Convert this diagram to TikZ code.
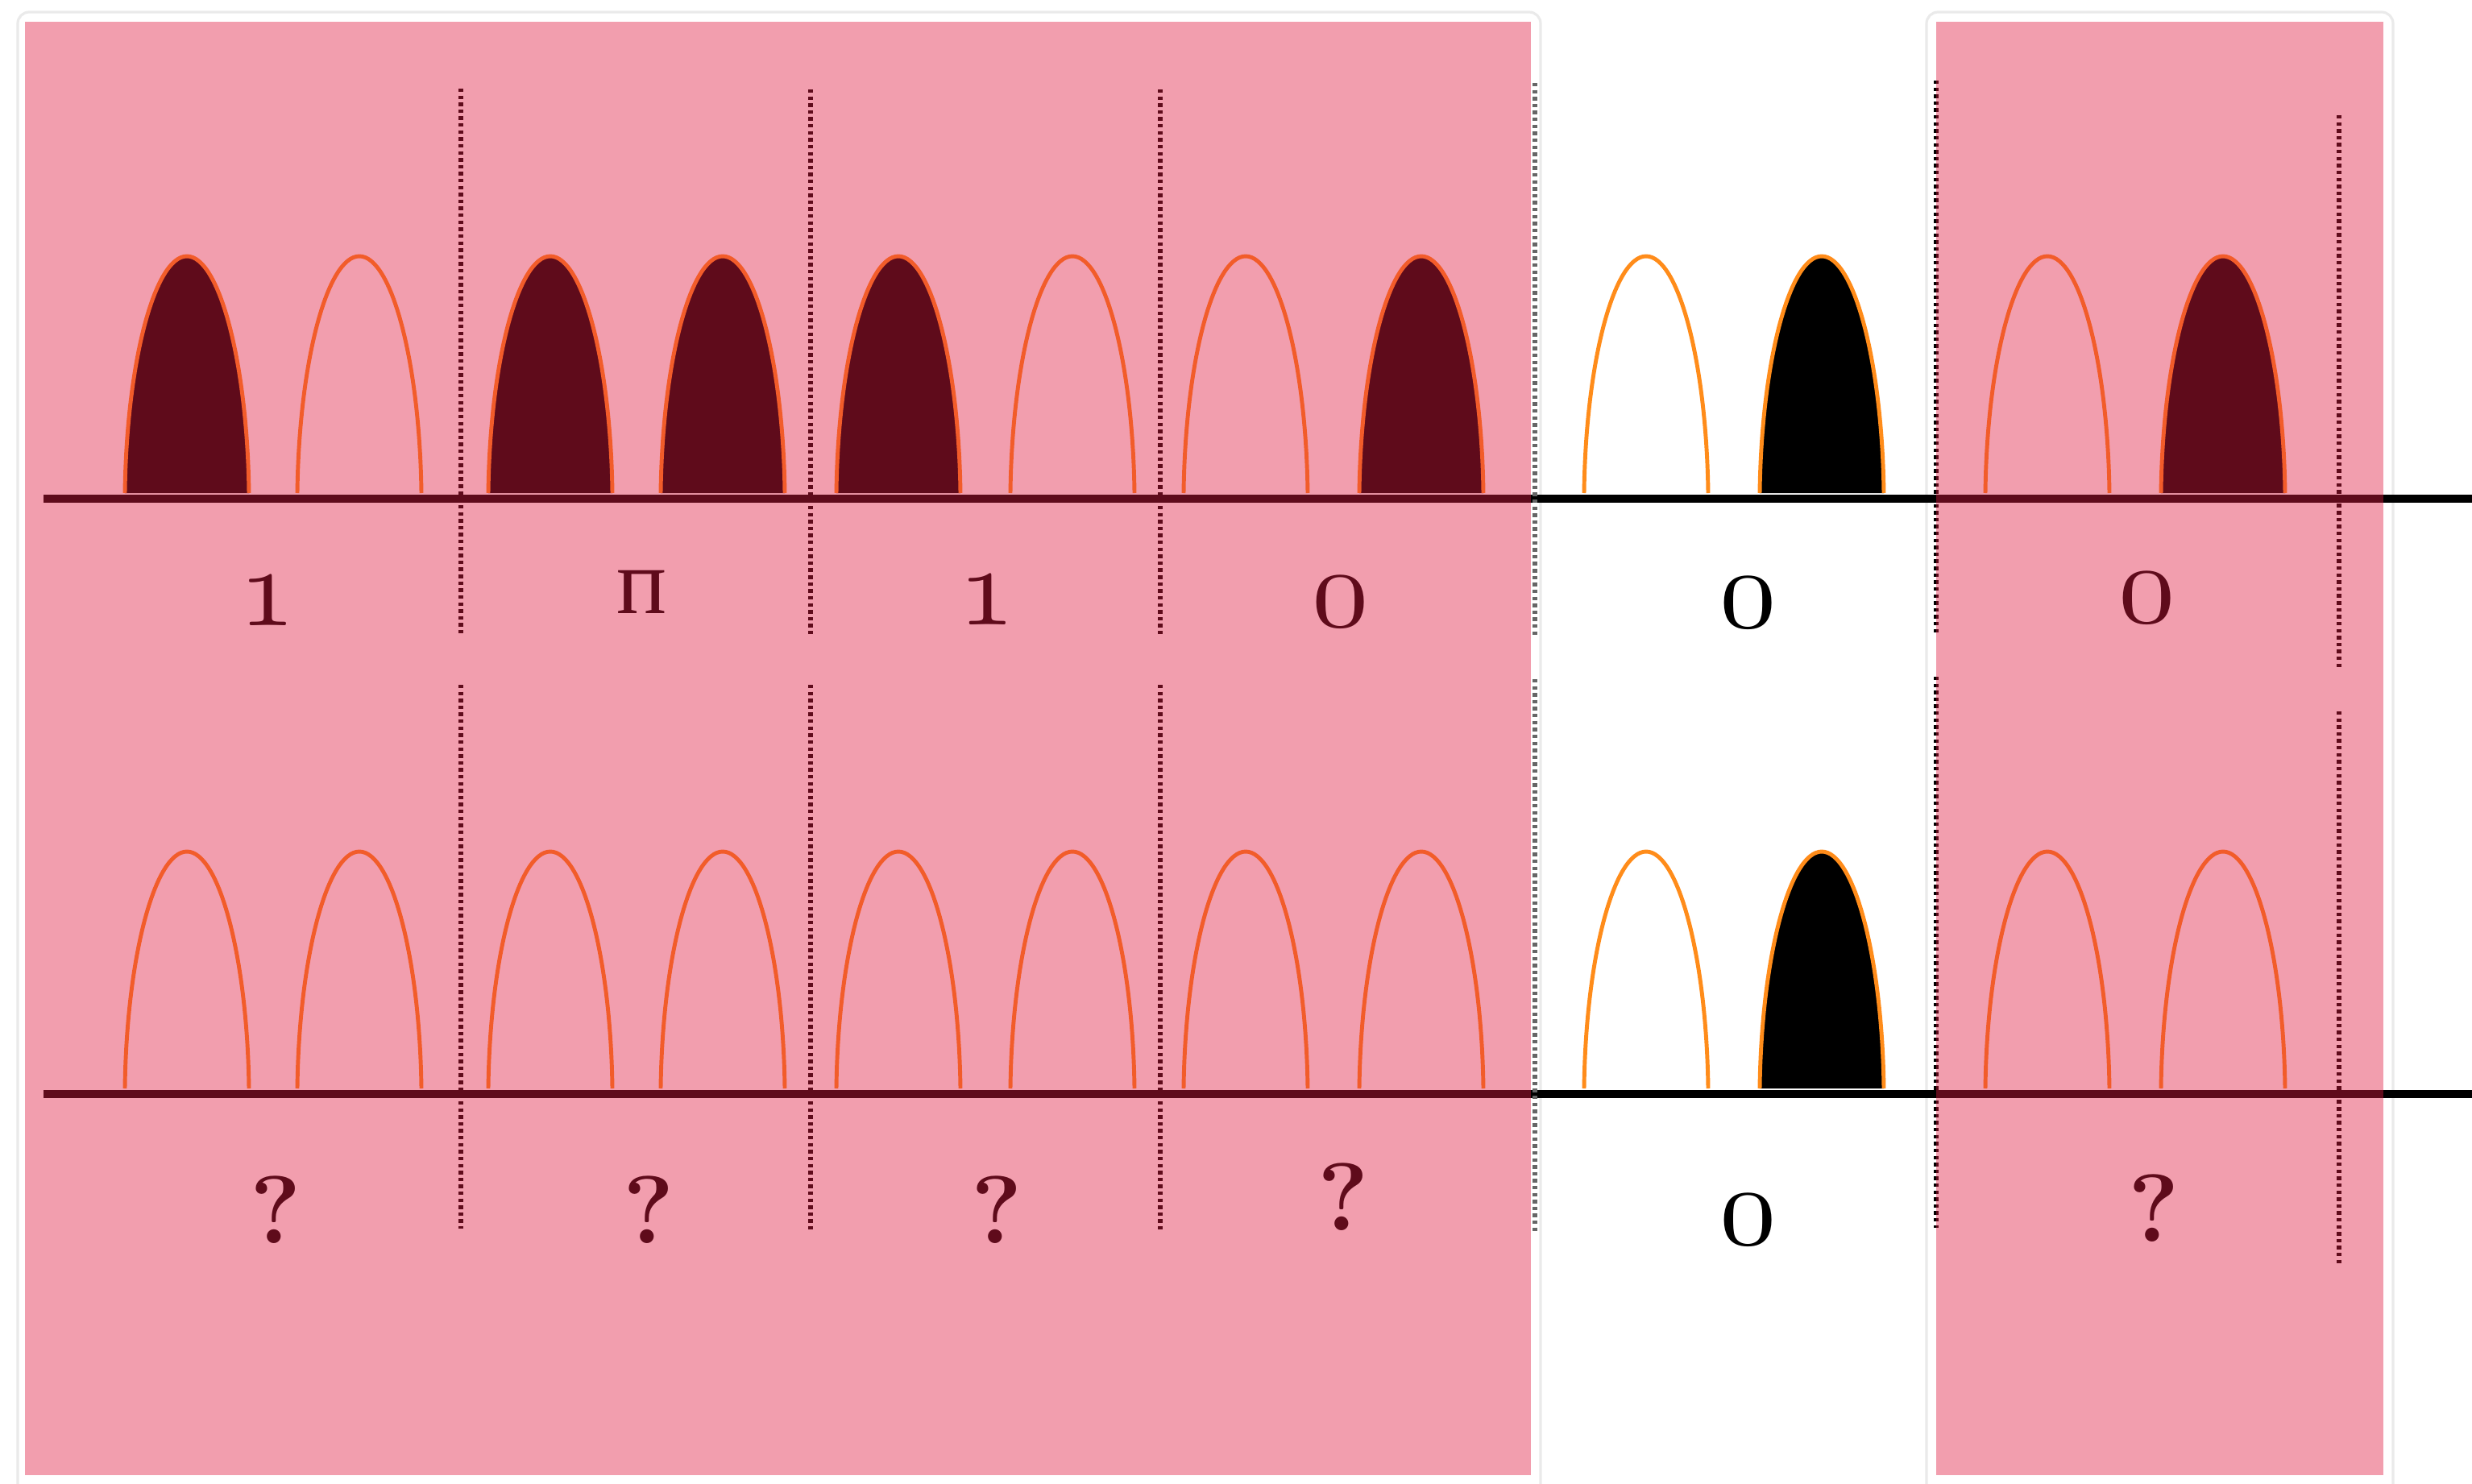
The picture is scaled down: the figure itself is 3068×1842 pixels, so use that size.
\documentclass[tikz,border=0pt]{standalone}
\usepackage{fontspec}
\newfontfamily\cyrfont{Liberation Serif}
\definecolor{pulseorange}{RGB}{255,140,26}
\definecolor{errorred}{RGB}{226,28,66}
\definecolor{framegray}{RGB}{234,234,234}
\font\bitfont=cmmi10 at 40pt
\newcommand{\bitnum}[1]{{\bitfont #1}}
\newcommand{\bitunk}{{\fontsize{34}{34}\selectfont\bfseries ?}}
\newcommand{\bitbad}{{\fontsize{33}{33}\cyrfont п}}
\tikzset{
  pulse/.style={draw=pulseorange, line width=1.4pt},
  timeaxis/.style={draw=black, line width=3.1pt},
  bitsep/.style={draw=black, line width=1.5pt, dash pattern=on 1.25pt off 1.2pt},
  bitlabel/.style={anchor=base, inner sep=0pt, text=black},
  errorzone/.style={fill=errorred, fill opacity=0.425},
  card/.style={draw=framegray, line width=0.9pt, rounded corners=4pt}
}
% one pulse: centre x, base y, fill
\newcommand{\pulsearch}[3]{%
  \path[pulse, fill=#3] (#1-77,#2) .. controls +(2,-162) and +(-40,0) .. (#1,#2-294)
    .. controls +(40,0) and +(-2,-162) .. (#1+77,#2);
}
\begin{document}
\begin{tikzpicture}[x=0.01cm, y=-0.01cm]
  \useasboundingbox (0,0) rectangle (3068,1842);
  \fill[white] (0,0) rectangle (3068,1842);

  \draw[card] (22,15) rectangle (1912,1900);
  \draw[card] (2391,15) rectangle (2970,1900);

  % received bits
  \foreach \x/\f in {232/black, 446/none, 683/black, 897/black, 1115/black, 1331/none,
                     1546/none, 1764/black, 2043/none, 2261/black, 2541/none, 2759/black} {
    \pulsearch{\x}{612}{\f}
  }
  \draw[timeaxis] (54,619) -- (3068,619);

  % decoded bits
  \foreach \x/\f in {232/none, 446/none, 683/none, 897/none, 1115/none, 1331/none,
                     1546/none, 1764/none, 2043/none, 2261/black, 2541/none, 2759/none} {
    \pulsearch{\x}{1351}{\f}
  }
  \draw[timeaxis] (54,1358) -- (3068,1358);

  \foreach \x/\a/\b/\c/\d in {572/110/787/850/1525, 1006/111/789/850/1527,
                              1440/111/789/850/1527, 2403/100/786/840/1524,
                              2903/143/829/883/1568} {
    \draw[bitsep] (\x,\a) -- (\x,\b);
    \draw[bitsep] (\x,\c) -- (\x,\d);
  }
  \draw[bitsep, black!60] (1905,103) -- (1905,789);
  \draw[bitsep, black!60] (1905,843) -- (1905,1528);

  \node[bitlabel] (top1) at (332,776) {\bitnum{1}};
  \node[bitlabel] (top2) at (797,761) {\bitbad};
  \node[bitlabel] (top3) at (1225,775) {\bitnum{1}};
  \node[bitlabel] (top4) at (1664,777) {\bitnum{0}};
  \node[bitlabel] (top5) at (2170,778) {\bitnum{0}};
  \node[bitlabel] (top6) at (2665,772) {\bitnum{0}};

  \node[bitlabel] (bot1) at (342,1543) {\bitunk};
  \node[bitlabel] (bot2) at (805,1543) {\bitunk};
  \node[bitlabel] (bot3) at (1237,1543) {\bitunk};
  \node[bitlabel] (bot4) at (1667,1527) {\bitunk};
  \node[bitlabel] (bot5) at (2170,1544) {\bitnum{0}};
  \node[bitlabel] (bot6) at (2673,1541) {\bitunk};

  \fill[errorzone] (31,27) rectangle (1900,1831);
  \fill[errorzone] (2403,27) rectangle (2958,1831);
\end{tikzpicture}
\end{document}
